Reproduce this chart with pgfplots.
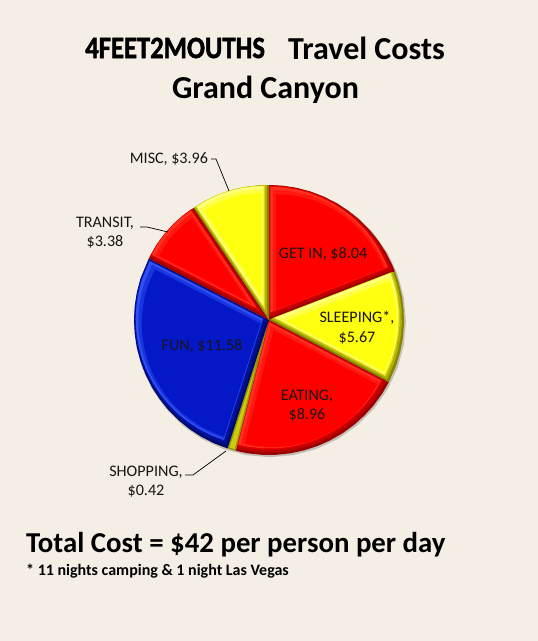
\documentclass[border=0pt]{standalone}
\usepackage{pgfplots}
\usepackage{pgfplotstable}
\usepackage{fontspec}
\pgfplotsset{compat=1.18}
\setmainfont{Carlito}
\newfontfamily\condfont[FakeStretch=0.86,FakeBold=1.5]{Carlito}
\definecolor{bg}{HTML}{F4EEE5}
\definecolor{txt}{HTML}{1C1412}
\definecolor{rB}{HTML}{FF0000}\definecolor{rD}{HTML}{9A0000}\definecolor{rL}{HTML}{FF3020}
\definecolor{yB}{HTML}{FFFF10}\definecolor{yD}{HTML}{858500}\definecolor{yL}{HTML}{FFFF80}
\definecolor{bB}{HTML}{0418C8}\definecolor{bD}{HTML}{000A68}\definecolor{bL}{HTML}{3050F4}
\tikzset{lab/.style={font=\fontsize{16.1}{19.5}\selectfont,text=txt,align=center,inner sep=0pt},
  ttl/.style={text=black,inner sep=0pt}}
% wedges: angle (deg, counter-clockwise from east) and radius; sizes follow 8.04, 5.67, 8.96, 0.42, 11.58, 3.38, 3.96
\pgfplotstableread[row sep=\\]{a r\\55.55 0\\90 135\\84 135\\78 135\\72 135\\66 135\\60 135\\54 135\\48 135\\42 135\\36 135\\30 135\\24 135\\21.10 135\\}\tabGetIn
\pgfplotstableread[row sep=\\]{a r\\-3.2 0\\21.10 135\\16 135\\10 135\\4 135\\-2 135\\-8 135\\-14 135\\-20 135\\-27.49 135\\}\tabSleep
\pgfplotstableread[row sep=\\]{a r\\-65.88 0\\-27.49 135\\-33 135\\-39 135\\-45 135\\-51 135\\-57 135\\-63 135\\-69 135\\-75 135\\-81 135\\-87 135\\-93 135\\-99 135\\-104.27 135\\}\tabEat
\pgfplotstableread[row sep=\\]{a r\\-106 0\\-104.27 135\\-107.87 135\\}\tabShop
\pgfplotstableread[row sep=\\]{a r\\-157.49 0\\-107.87 135\\-114 135\\-120 135\\-126 135\\-132 135\\-138 135\\-144 135\\-150 135\\-156 135\\-162 135\\-168 135\\-174 135\\-180 135\\-186 135\\-192 135\\-198 135\\-207.10 135\\}\tabFun
\pgfplotstableread[row sep=\\]{a r\\-221.59 0\\-207.10 135\\-213 135\\-219 135\\-225 135\\-231 135\\-236.07 135\\}\tabTransit
\pgfplotstableread[row sep=\\]{a r\\-253.03 0\\-236.07 135\\-242 135\\-248 135\\-254 135\\-260 135\\-266 135\\-270 135\\}\tabMisc
\pgfplotstableread[row sep=\\]{a r\\0 135\\10 135\\20 135\\30 135\\40 135\\50 135\\60 135\\70 135\\80 135\\90 135\\100 135\\110 135\\120 135\\130 135\\140 135\\150 135\\160 135\\170 135\\180 135\\190 135\\200 135\\210 135\\220 135\\230 135\\240 135\\250 135\\260 135\\270 135\\280 135\\290 135\\300 135\\310 135\\320 135\\330 135\\340 135\\350 135\\}\tabRound
% one layer: table, incentre x, y, inradius, inset, shift towards the light, fill options
\newcommand\lay[7]{\addplot[draw=none,fill,#7,mark=none] table[
  x expr={269-0.6*#6+#2+(1-#5/#4)*(\thisrow{r}*cos(\thisrow{a})-#2)},
  y expr={321+0.8*#6+#3+(1-#5/#4)*(\thisrow{r}*sin(\thisrow{a})-#3)}] {#1};}
\newcommand\slice[7]{%
  \lay{#1}{#2}{#3}{#4}{0}{0}{#6}
  \lay{#1}{#2}{#3}{#4}{1.2}{1.5}{#6!65!#5}
  \lay{#1}{#2}{#3}{#4}{2.4}{3.0}{#6!30!#5}
  \lay{#1}{#2}{#3}{#4}{3.4}{3.4}{#7}
  \lay{#1}{#2}{#3}{#4}{5}{2}{#7!50!#5}
  \lay{#1}{#2}{#3}{#4}{7}{0}{#5}}
\begin{document}
\begin{tikzpicture}
\begin{axis}[
  width=538pt,height=641pt,scale only axis,
  xmin=0,xmax=538,ymin=0,ymax=641,
  hide axis,clip=false,
]
\fill[bg] (axis cs:0,0) rectangle (axis cs:538,641);
\lay{\tabRound}{0}{0}{135}{-1}{-1.5}{black,opacity=0.2}
\slice{\tabGetIn}{48.8}{71.1}{48.8}{rB}{rD}{rL}
\slice{\tabSleep}{95.5}{-5.3}{39.35}{yB}{yD}{yL}
\slice{\tabEat}{34.0}{-76.0}{51.7}{rB}{rD}{rL}
\lay{\tabShop}{-36.2}{-125.8}{4.1}{0}{0}{yD!85!yB}
\lay{\tabShop}{-36.2}{-125.8}{4.1}{1.5}{0}{yB!80!black}
\slice{\tabFun}{-70.8}{-29.3}{58.4}{bB}{bD}{bL}
\slice{\tabTransit}{-80.8}{71.7}{27.0}{rB}{rD}{rL}
\slice{\tabMisc}{-30.5}{99.9}{30.5}{yB}{yD}{yL}
% leader lines
\addplot[black,line width=0.7pt,mark=none] coordinates {(211,482) (216,482) (229,450)};
\addplot[black,line width=0.7pt,mark=none] coordinates {(140,414) (147,414) (168,409)};
\addplot[black,line width=0.7pt,mark=none] coordinates {(185,166) (193,166) (226,190)};
% data labels
\node[lab] at (axis cs:169,482) {MISC, \$3.96};
\node[lab] at (axis cs:105,408.5) {TRANSIT,\\\$3.38};
\node[lab] at (axis cs:323,387) {GET IN, \$8.04};
\node[lab] at (axis cs:357,313.5) {SLEEPING*,\\\$5.67};
\node[lab] at (axis cs:202,294.5) {FUN, \$11.58};
\node[lab] at (axis cs:307,235.5) {EATING,\\\$8.96};
\node[lab] at (axis cs:146,159.5) {SHOPPING,\\\$0.42};
% titles
\node[ttl,font=\fontsize{31}{32}\selectfont\condfont\bfseries,anchor=west] at (axis cs:85,593) {4FEET2MOUTHS};
\node[ttl,font=\fontsize{32}{34}\selectfont\bfseries,anchor=west] at (axis cs:288,593) {Travel Costs};
\node[ttl,font=\fontsize{32}{34}\selectfont\bfseries] at (axis cs:265.5,551.5) {Grand Canyon};
\node[ttl,font=\fontsize{28.8}{32}\selectfont\bfseries,anchor=west] at (axis cs:26,96) {Total Cost = \$42 per person per day};
\node[ttl,font=\fontsize{16}{18}\selectfont\bfseries,anchor=west] at (axis cs:26,70) {* 11 nights camping \& 1 night Las Vegas};
\end{axis}
\end{tikzpicture}
\end{document}
